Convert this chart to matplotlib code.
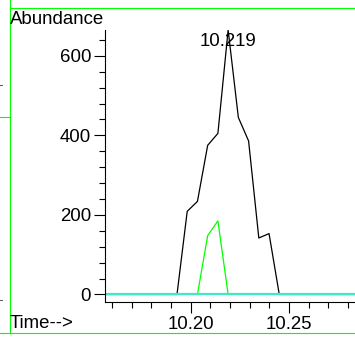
import numpy as np
import matplotlib
matplotlib.use("Agg")
import matplotlib.pyplot as plt
from matplotlib.lines import Line2D
from matplotlib.ticker import MultipleLocator

plt.rcParams['font.family'] = ['Liberation Sans', 'DejaVu Sans']

# black trace (TIC)
t_black = [10.1564, 10.1878, 10.1930, 10.1982, 10.2034, 10.2086, 10.2138, 10.2190,
           10.2242, 10.2294, 10.2346, 10.2398, 10.2450, 10.2502, 10.2835]
v_black = [0, 0, 0, 209, 234, 375, 405, 665, 445, 386, 142, 153, 0, 0, 0]

# green trace
t_green = [10.1564, 10.1982, 10.2034, 10.2086, 10.2138, 10.2190, 10.2242, 10.2835]
v_green = [0, 0, 0, 148, 185, 0, 0, 0]

# cyan trace (flat baseline)
t_cyan = [10.1564, 10.2835]
v_cyan = [0, 0]

peak_time = 10.219
peak_label = "10.219"

fig = plt.figure(figsize=(3.55, 3.43), dpi=100)
ax = fig.add_axes([105/355, 1 - 302/343, 1 - 105/355, (302 - 30)/343])

ax.plot(t_black, v_black, color='black', lw=0.9)
ax.plot(t_green, v_green, color='#00ff00', lw=0.9)
ax.plot(t_cyan, v_cyan, color='#40e8c8', lw=1.6)

ax.set_xlim(10.1564, 10.2835)
ax.set_ylim(-19, 665)

ax.spines['top'].set_visible(False)
ax.spines['right'].set_visible(False)

ax.set_xticks([10.20, 10.25])
ax.set_xticklabels(['10.20', '10.25'])
ax.xaxis.set_minor_locator(MultipleLocator(0.01))
ax.set_yticks([0, 200, 400, 600])
ax.yaxis.set_minor_locator(MultipleLocator(40))
ax.tick_params(axis='both', which='major', length=8, width=0.8, labelsize=13.4, pad=2)
ax.tick_params(axis='both', which='minor', length=4, width=0.8)
ax.tick_params(axis='y', which='both', direction='out')

ax.text(peak_time, 665 - 28, peak_label, ha='center', va='center', fontsize=13.4)

fig.text(10/355, 1 - 20/343, "Abundance", ha='left', va='center', fontsize=13.4)
fig.text(10/355, 1 - 323/343, "Time-->", ha='left', va='center', fontsize=13.4)

# green frame lines around the panel
def fline(x0, y0, x1, y1, color='#00ff00', lw=0.8):
    fig.add_artist(Line2D([x0/355, x1/355], [1 - y0/343, 1 - y1/343],
                          color=color, lw=lw, transform=fig.transFigure))

fline(9.5, 0, 9.5, 333)
fline(10, 8, 355, 8)
fline(0, 333, 355, 333)
fline(0, 117, 10, 117)
fline(0, 85, 2, 85, color='#555555', lw=0.7)
fline(0, 300, 2, 300, color='#555555', lw=0.7)

fig.savefig("out.png", dpi=100)
